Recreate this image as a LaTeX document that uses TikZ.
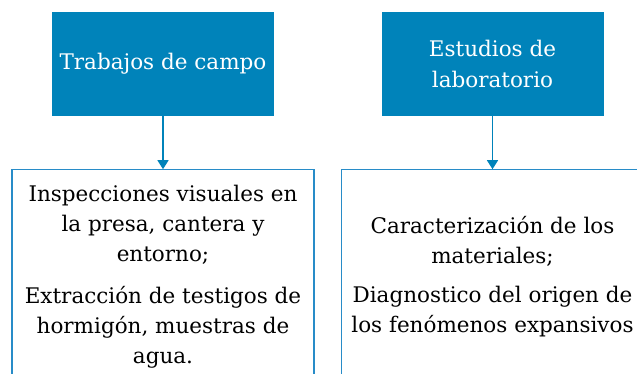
\documentclass[tikz,border=0pt]{standalone}
\usepackage{fontspec}
\setmainfont{DejaVu Serif}
\usetikzlibrary{arrows.meta, positioning}
\definecolor{cblue}{RGB}{0,131,186}
\definecolor{lblue}{RGB}{40,140,200}

\tikzset{
  topbox/.style={fill=cblue, draw=none, text=white, align=center,
                 minimum width=222pt, minimum height=104pt,
                 inner sep=0pt, font=\fontsize{21.5}{31}\selectfont},
  detailbox/.style={draw=lblue, line width=1.2pt, fill=white, align=center,
                    minimum width=302pt, minimum height=214pt,
                    inner sep=0pt, font=\fontsize{21.5}{30}\selectfont},
  link/.style={draw=cblue, line width=1.4pt,
               -{Triangle[length=9pt, width=11pt]}}
}

\begin{document}
\begin{tikzpicture}[x=1pt, y=1pt]
  \clip (0,0) rectangle (637,-374);
  \useasboundingbox (0,0) rectangle (637,-374);

  % upper row
  \node[topbox] (campo) at (163,-64) {Trabajos de campo};
  \node[topbox] (lab) at (492.5,-64) {Estudios de\\laboratorio};

  % lower row
  \node[detailbox, below=53pt of campo] (campoinfo)
    {Inspecciones visuales en\\la presa, cantera y\\entorno;\\[12pt]
     Extracción de testigos de\\hormigón, muestras de\\agua.};
  \node[detailbox, below=53pt of lab] (labinfo)
    {Caracterización de los\\materiales;\\[9pt]
     Diagnostico del origen de\\los fenómenos expansivos};

  \draw[link] (campo) -- (campoinfo);
  \draw[link] (lab) -- (labinfo);
\end{tikzpicture}
\end{document}
